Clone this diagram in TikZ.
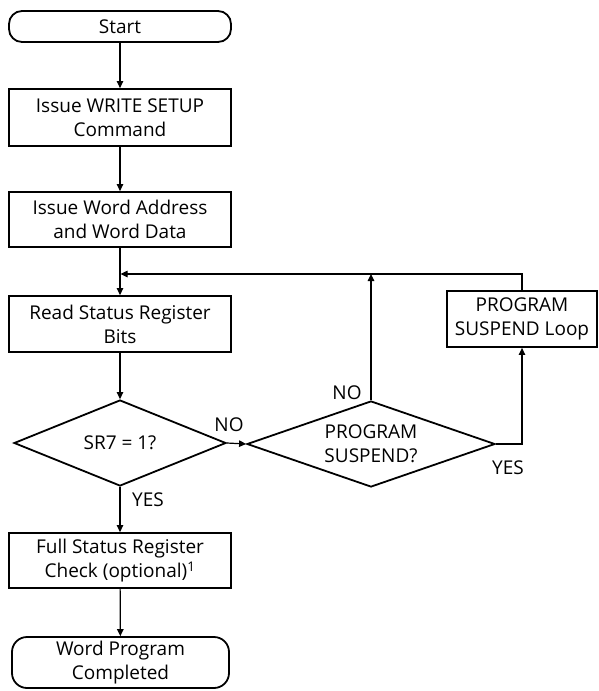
\documentclass[tikz,border=0pt]{standalone}
\usepackage{fontspec}
\setmainfont{Open Sans}
\usetikzlibrary{shapes.geometric,arrows.meta}
\begin{document}
\begin{tikzpicture}[x=1pt,y=-1pt,
  every node/.style={font=\fontsize{19}{24}\selectfont, align=center},
  box/.style={draw, line width=1.8pt, rectangle, inner sep=0pt, minimum width=222pt},
  term/.style={box, rounded corners=13pt},
  dec/.style={draw, line width=1.8pt, diamond, aspect=2.88, inner sep=0pt},
  conn/.style={line width=1.2pt, -{Triangle[length=7pt,width=6.5pt]}},
  lbl/.style={inner sep=0pt}]
\useasboundingbox (0,0) rectangle (598,691);
\node[term, minimum height=31pt] (start) at (120,26.5) {Start};
\node[box, minimum height=57pt] (b1) at (120,117.5) {Issue WRITE SETUP\\Command};
\node[box, minimum height=55pt] (b2) at (120,219.5) {Issue Word Address\\and Word Data};
\node[box, minimum height=56pt] (read) at (120,324) {Read Status Register\\Bits};
\node[dec, minimum width=212pt, minimum height=86pt] (sr7) at (120,443) {SR7 = 1?};
\node[box, minimum height=55pt] (full) at (120,560.5) {Full Status Register\\Check (optional)\textsuperscript{1}};
\node[term, minimum width=217pt, minimum height=51pt, rounded corners=15pt] (end) at (120.5,662.5) {Word Program\\Completed};
\node[dec, minimum width=248pt, minimum height=86pt] (susp) at (371,444) {PROGRAM\\SUSPEND?};
\node[box, minimum width=150pt, minimum height=56pt] (loop) at (522,319) {PROGRAM\\SUSPEND Loop};
\coordinate (j) at (120,274);
\node[lbl] (no1) at (229,425) {NO};
\node[lbl] (no2) at (347,393) {NO};
\node[lbl] (yes1) at (508,468) {YES};
\node[lbl] (yes2) at (148,500) {YES};
\draw[conn] (start) -- (b1);
\draw[conn] (b1) -- (b2);
\draw[conn] (b2) -- (read);
\draw[conn] (read) -- (sr7);
\draw[conn] (sr7) -- (full);
\draw[conn] (full) -- (end);
\draw[conn] (sr7.east) -- (susp.west);
\draw[conn] (susp.east) -| (loop.south);
\draw[conn] (susp.north) -- (susp.north |- j);
\draw[conn, shorten >=0.6pt] (loop.north) |- (j);
\end{tikzpicture}
\end{document}
